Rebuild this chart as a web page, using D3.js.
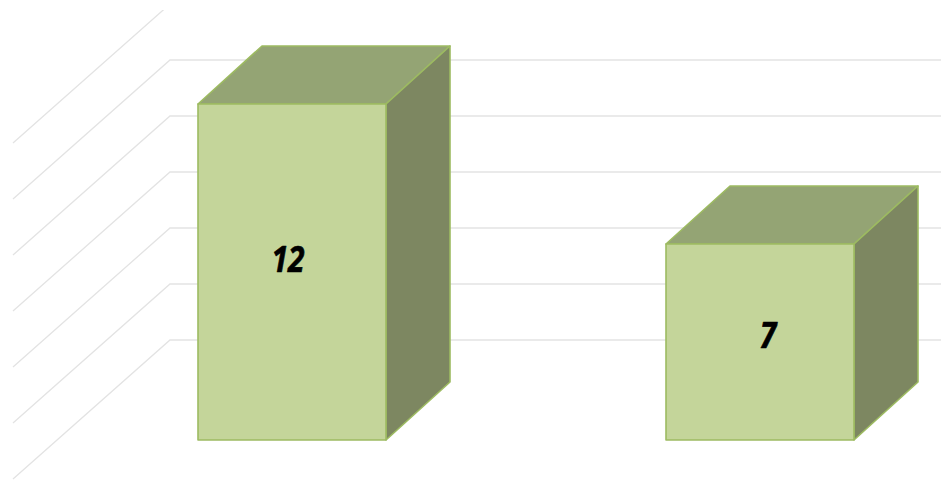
<!DOCTYPE html>
<html>
<head>
<meta charset="utf-8">
<script src="https://cdn.jsdelivr.net/npm/d3@7"></script>
<style>
html,body{margin:0;padding:0;background:#fff;overflow:hidden}
svg{display:block}
text{font-family:"Open Sans",sans-serif;font-weight:700;font-style:italic;fill:#000}
</style>
</head>
<body>
<svg id="c" width="941" height="480"></svg>
<script>
const categories = ["A", "B"];
const values = [12, 7];
const gridLevels = [1.5, 3.5, 5.5, 7.5, 9.5, 11.5, 13.5];

const W = 941, H = 480;
const baseY = 440, unit = 28;
const depthX = 64, depthY = 58;
const wallX = 170, wallDepthX = 157, wallDepthY = 139;
const labelDX = [-4, 8], labelDY = [-12.5, -6.5];

const svg = d3.select("#c");
const x = d3.scaleBand().domain(categories).range([198, 854]).paddingInner(1 - 188 / 468);
const y = d3.scaleLinear().domain([0, 16]).range([baseY, baseY - 16 * unit]);
const backY = v => y(v) - depthY;

svg.append("defs").append("clipPath").attr("id", "plot")
  .append("rect").attr("x", 0).attr("y", 10).attr("width", W).attr("height", H - 10);

const grid = svg.append("g").attr("clip-path", "url(#plot)")
  .attr("fill", "none").attr("stroke", "#e3e3e3").attr("stroke-width", 1.3);
grid.selectAll("path").data(gridLevels).join("path")
  .attr("d", v => d3.line()([
    [wallX - wallDepthX, backY(v) + wallDepthY],
    [wallX, backY(v)],
    [W, backY(v)]
  ]));

const line = d3.line();
const bars = svg.append("g").selectAll("g").data(categories.map((c, i) => ({c, v: values[i], i}))).join("g")
  .attr("stroke", "#9dbb61").attr("stroke-width", 1.6).attr("stroke-linejoin", "round");

bars.append("path").attr("fill", "#94a474").attr("d", d => {
  const l = x(d.c), r = l + x.bandwidth(), t = y(d.v);
  return line([[l, t], [l + depthX, t - depthY], [r + depthX, t - depthY], [r, t]]) + "Z";
});
bars.append("path").attr("fill", "#7d8761").attr("d", d => {
  const r = x(d.c) + x.bandwidth(), t = y(d.v), b = y(0);
  return line([[r, t], [r + depthX, t - depthY], [r + depthX, b - depthY], [r, b]]) + "Z";
});
bars.append("path").attr("fill", "#c4d59a").attr("d", d => {
  const l = x(d.c), r = l + x.bandwidth(), t = y(d.v), b = y(0);
  return line([[l, t], [r, t], [r, b], [l, b]]) + "Z";
});
bars.append("text")
  .attr("stroke", "#000")
  .attr("stroke-width", 0.7)
  .attr("x", d => x(d.c) + x.bandwidth() / 2 + labelDX[d.i])
  .attr("y", d => y(d.v / 2) + labelDY[d.i])
  .attr("dy", "0.36em")
  .attr("text-anchor", "middle")
  .attr("font-size", 35)
  .attr("textLength", d => String(d.v).length * 16.5)
  .attr("lengthAdjust", "spacingAndGlyphs")
  .text(d => d.v);
</script>
</body>
</html>
